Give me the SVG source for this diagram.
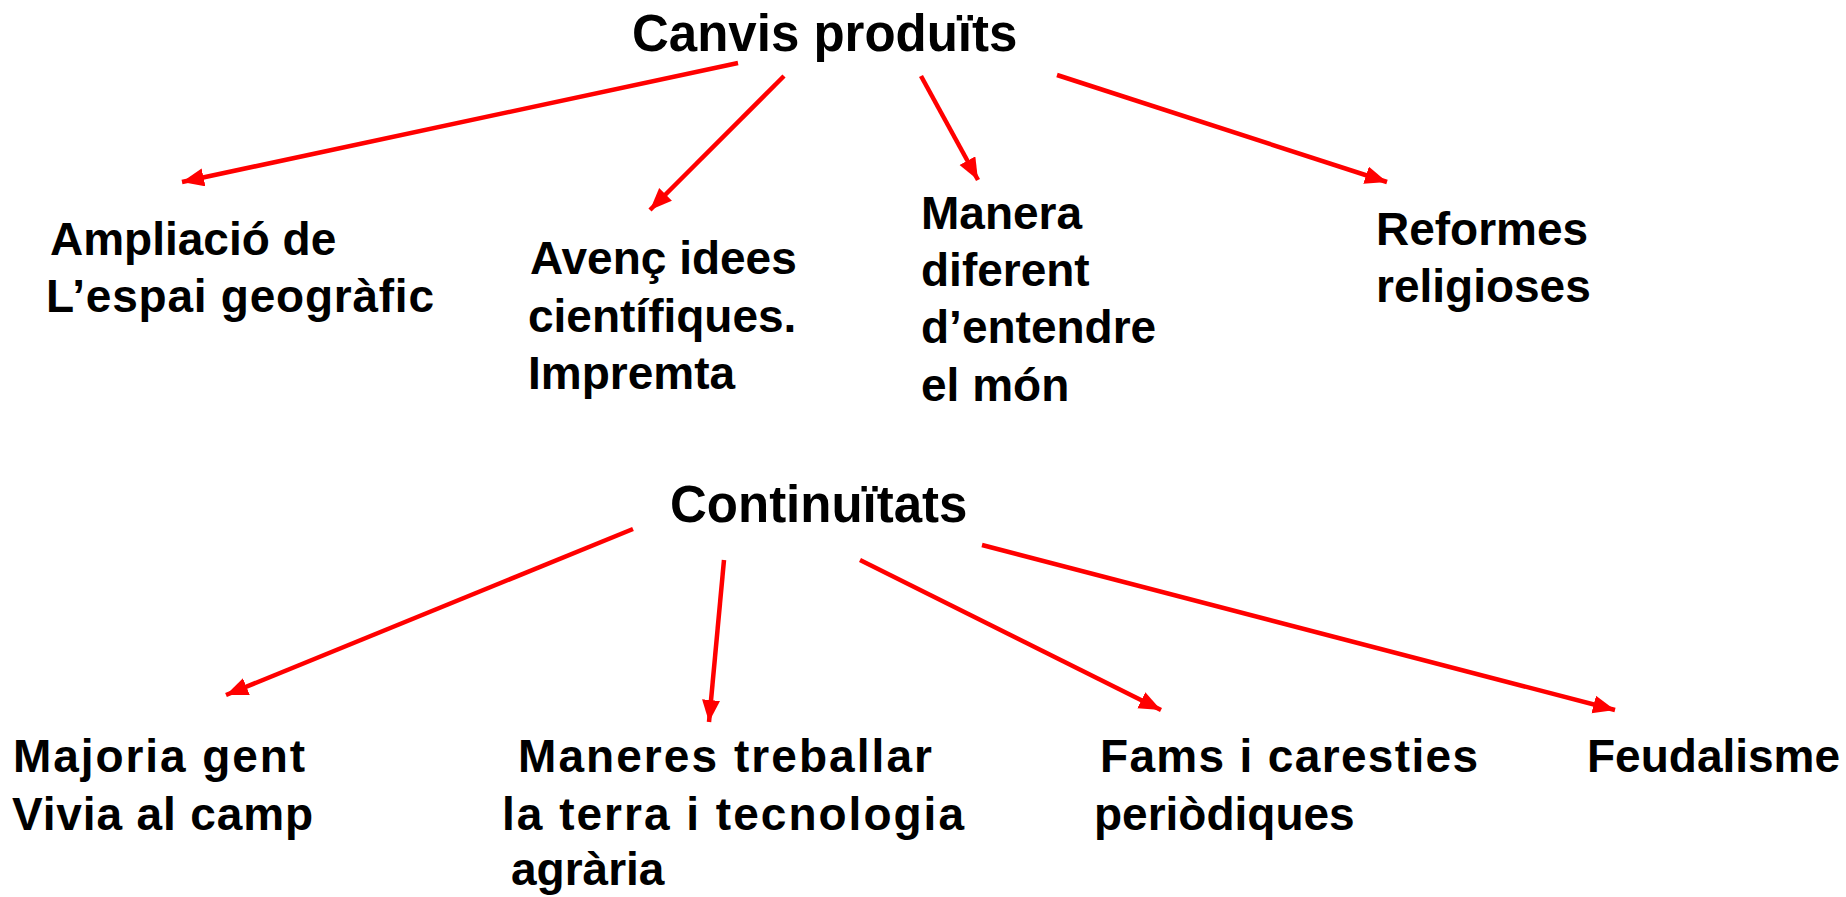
<svg xmlns="http://www.w3.org/2000/svg" width="1846" height="897" viewBox="0 0 1846 897">
  <style>
    text { font-family: "Liberation Sans", Arial, sans-serif; font-weight: bold; fill: #000; }
    .title { font-size: 51px; }
    .node { font-size: 46px; }
    .arrow { stroke: #ff0000; stroke-width: 4.5; fill: none; marker-end: url(#head); }
  </style>
  <defs>
    <marker id="head" markerUnits="userSpaceOnUse" markerWidth="24" markerHeight="20" refX="22" refY="9" orient="auto">
      <path d="M0,0 L22,9 L0,18 z" fill="#ff0000"/>
    </marker>
  </defs>
  <rect width="1846" height="897" fill="#ffffff"/>

  <g id="connectors">
    <line class="arrow" x1="738" y1="63" x2="182" y2="182"/>
    <line class="arrow" x1="784" y1="76" x2="650" y2="210"/>
    <line class="arrow" x1="921" y1="76" x2="978" y2="180"/>
    <line class="arrow" x1="1057" y1="75" x2="1387" y2="182"/>
    <line class="arrow" x1="633" y1="529" x2="226" y2="695"/>
    <line class="arrow" x1="724" y1="560" x2="709" y2="722"/>
    <line class="arrow" x1="860" y1="560" x2="1161" y2="710"/>
    <line class="arrow" x1="982" y1="545" x2="1615" y2="710"/>
  </g>

  <g id="canvis">
    <text class="title" x="632" y="51">Canvis produïts</text>
  </g>
  <g id="ampliacio">
    <text class="node" x="50" y="255">Ampliació de</text>
    <text class="node" x="46" y="312" textLength="388" lengthAdjust="spacing">L’espai geogràfic</text>
  </g>
  <g id="avenc">
    <text class="node" x="530" y="274">Avenç idees</text>
    <text class="node" x="528" y="332">científiques.</text>
    <text class="node" x="528" y="389">Impremta</text>
  </g>
  <g id="manera">
    <text class="node" x="921" y="229">Manera</text>
    <text class="node" x="921" y="286">diferent</text>
    <text class="node" x="921" y="343">d’entendre</text>
    <text class="node" x="921" y="401">el món</text>
  </g>
  <g id="reformes">
    <text class="node" x="1376" y="245">Reformes</text>
    <text class="node" x="1376" y="302">religioses</text>
  </g>

  <g id="continuitats">
    <text class="title" x="670" y="522">Continuïtats</text>
  </g>
  <g id="majoria">
    <text class="node" x="13" y="772" textLength="292" lengthAdjust="spacing">Majoria gent</text>
    <text class="node" x="12" y="830" textLength="301" lengthAdjust="spacing">Vivia al camp</text>
  </g>
  <g id="maneres">
    <text class="node" x="518" y="772" textLength="414" lengthAdjust="spacing">Maneres treballar</text>
    <text class="node" x="502" y="830" textLength="462" lengthAdjust="spacing">la terra i tecnologia</text>
    <text class="node" x="511" y="885">agrària</text>
  </g>
  <g id="fams">
    <text class="node" x="1100" y="772" textLength="378" lengthAdjust="spacing">Fams i caresties</text>
    <text class="node" x="1094" y="830">periòdiques</text>
  </g>
  <g id="feudalisme">
    <text class="node" x="1587" y="772">Feudalisme</text>
  </g>
</svg>
